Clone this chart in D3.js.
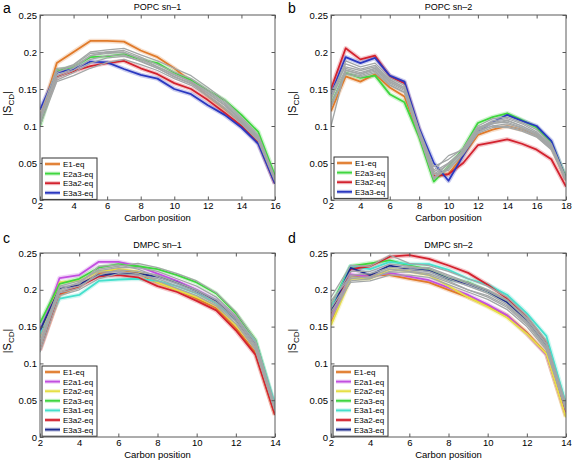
<!DOCTYPE html>
<html><head><meta charset="utf-8">
<script src="https://cdn.jsdelivr.net/npm/d3@7"></script>
<style>
html,body{margin:0;padding:0;background:#fff;}
svg{display:block;font-family:"Liberation Sans",Arial,Helvetica,sans-serif;}
</style></head>
<body><svg id="chart" width="573" height="461"></svg>
<script>
// ---------- Data ----------
const yTicks = [0, 0.05, 0.1, 0.15, 0.2, 0.25];
const yTickLabels = ["0", "0.05", "0.1", "0.15", "0.2", "0.25"];

// Panel a: POPC sn-1
const carbonsA = [2,3,4,5,6,7,8,9,10,11,12,13,14,15,16];
const xTicksA = [2,4,6,8,10,12,14,16];
const a_E1   = [0.110,0.185,0.200,0.215,0.215,0.214,0.202,0.193,0.178,0.160,0.140,0.123,0.105,0.082,0.025];
const a_E2a3 = [0.100,0.175,0.180,0.193,0.194,0.197,0.190,0.185,0.172,0.162,0.148,0.135,0.115,0.092,0.033];
const a_E3a2 = [0.110,0.166,0.174,0.181,0.185,0.188,0.178,0.170,0.158,0.150,0.135,0.118,0.100,0.078,0.022];
const a_E3a3 = [0.122,0.172,0.177,0.187,0.186,0.177,0.169,0.164,0.150,0.143,0.128,0.115,0.098,0.076,0.022];
const a_grey = [
  [0.105,0.175,0.183,0.200,0.203,0.205,0.196,0.188,0.178,0.168,0.152,0.135,0.112,0.088,0.030],
  [0.110,0.172,0.182,0.198,0.200,0.202,0.193,0.183,0.173,0.164,0.149,0.132,0.110,0.086,0.028],
  [0.108,0.168,0.178,0.195,0.198,0.200,0.190,0.180,0.170,0.160,0.145,0.128,0.106,0.083,0.027],
  [0.112,0.165,0.175,0.190,0.195,0.196,0.187,0.178,0.166,0.157,0.142,0.125,0.104,0.082,0.026],
  [0.100,0.160,0.168,0.178,0.186,0.190,0.183,0.175,0.164,0.155,0.140,0.123,0.103,0.080,0.025],
  [0.106,0.162,0.172,0.185,0.192,0.194,0.188,0.178,0.167,0.158,0.144,0.128,0.108,0.084,0.027],
  [0.115,0.178,0.180,0.195,0.200,0.199,0.191,0.180,0.169,0.160,0.147,0.130,0.108,0.085,0.028]
];

// Panel b: POPC sn-2
const carbonsB = [2,3,4,5,6,7,8,9,10,11,12,13,14,15,16,17,18];
const xTicksB = [2,4,6,8,10,12,14,16,18];
const b_E1   = [0.120,0.167,0.160,0.170,0.152,0.140,0.088,0.032,0.035,0.060,0.088,0.095,0.100,0.095,0.088,0.072,0.027];
const b_E2a3 = [0.130,0.172,0.165,0.168,0.143,0.132,0.085,0.025,0.045,0.070,0.104,0.112,0.117,0.108,0.098,0.077,0.030];
const b_E3a2 = [0.150,0.205,0.190,0.195,0.167,0.158,0.095,0.032,0.035,0.050,0.074,0.078,0.082,0.076,0.068,0.055,0.018];
const b_E3a3 = [0.143,0.193,0.185,0.192,0.168,0.160,0.097,0.050,0.026,0.060,0.093,0.105,0.115,0.107,0.100,0.080,0.028];
const b_grey = [
  [0.140,0.188,0.180,0.185,0.165,0.155,0.095,0.045,0.055,0.070,0.100,0.110,0.112,0.105,0.095,0.076,0.030],
  [0.135,0.184,0.177,0.182,0.163,0.152,0.092,0.040,0.060,0.068,0.097,0.107,0.110,0.103,0.092,0.074,0.029],
  [0.100,0.178,0.172,0.178,0.160,0.150,0.090,0.030,0.050,0.066,0.095,0.103,0.107,0.100,0.090,0.072,0.028],
  [0.125,0.175,0.170,0.176,0.158,0.148,0.090,0.028,0.045,0.065,0.092,0.100,0.103,0.097,0.088,0.070,0.027],
  [0.130,0.172,0.168,0.174,0.156,0.146,0.088,0.035,0.040,0.062,0.090,0.098,0.100,0.095,0.086,0.069,0.027],
  [0.128,0.170,0.166,0.172,0.155,0.145,0.087,0.030,0.042,0.063,0.094,0.100,0.098,0.093,0.085,0.068,0.026],
  [0.145,0.180,0.175,0.180,0.162,0.152,0.093,0.038,0.050,0.067,0.098,0.105,0.108,0.100,0.090,0.073,0.028],
  [0.138,0.176,0.170,0.178,0.160,0.150,0.090,0.035,0.048,0.065,0.096,0.104,0.105,0.098,0.088,0.071,0.027]
];

// Panel c: DMPC sn-1
const carbonsC = [2,3,4,5,6,7,8,9,10,11,12,13,14];
const xTicksC = [2,4,6,8,10,12,14];
const c_E1   = [0.120,0.193,0.205,0.222,0.228,0.222,0.210,0.200,0.188,0.175,0.148,0.115,0.030];
const c_E2a1 = [0.140,0.216,0.220,0.238,0.238,0.232,0.222,0.212,0.200,0.185,0.162,0.128,0.038];
const c_E2a2 = [0.135,0.210,0.212,0.225,0.228,0.225,0.210,0.200,0.190,0.178,0.152,0.120,0.035];
const c_E2a3 = [0.155,0.208,0.215,0.230,0.235,0.232,0.228,0.220,0.210,0.195,0.168,0.132,0.040];
const c_E3a1 = [0.140,0.188,0.193,0.212,0.214,0.215,0.212,0.205,0.195,0.182,0.160,0.130,0.043];
const c_E3a2 = [0.118,0.195,0.205,0.218,0.220,0.217,0.205,0.197,0.185,0.172,0.145,0.112,0.030];
const c_E3a3 = [0.145,0.202,0.207,0.220,0.222,0.222,0.218,0.210,0.198,0.185,0.160,0.125,0.038];
const c_grey = [
  [0.120,0.200,0.210,0.228,0.232,0.236,0.230,0.222,0.212,0.196,0.170,0.132,0.042],
  [0.125,0.205,0.212,0.226,0.230,0.230,0.225,0.215,0.205,0.190,0.165,0.128,0.040],
  [0.130,0.198,0.205,0.220,0.227,0.225,0.220,0.210,0.200,0.186,0.162,0.125,0.038],
  [0.115,0.192,0.200,0.215,0.222,0.220,0.215,0.205,0.195,0.180,0.157,0.120,0.036],
  [0.135,0.203,0.208,0.232,0.234,0.228,0.218,0.208,0.198,0.183,0.160,0.123,0.037],
  [0.128,0.196,0.202,0.224,0.225,0.222,0.212,0.202,0.192,0.178,0.154,0.118,0.035]
];

// Panel d: DMPC sn-2
const carbonsD = [2,3,4,5,6,7,8,9,10,11,12,13,14];
const xTicksD = [2,4,6,8,10,12,14];
const d_E1   = [0.157,0.218,0.220,0.220,0.215,0.210,0.200,0.190,0.178,0.165,0.142,0.113,0.028];
const d_E2a1 = [0.160,0.221,0.218,0.223,0.218,0.213,0.203,0.193,0.180,0.165,0.140,0.112,0.030];
const d_E2a2 = [0.152,0.215,0.215,0.228,0.225,0.220,0.205,0.190,0.177,0.162,0.140,0.113,0.027];
const d_E2a3 = [0.178,0.232,0.236,0.240,0.233,0.228,0.215,0.210,0.198,0.185,0.160,0.128,0.040];
const d_E3a1 = [0.175,0.232,0.228,0.238,0.235,0.235,0.227,0.215,0.207,0.193,0.168,0.137,0.045];
const d_E3a2 = [0.167,0.228,0.232,0.245,0.247,0.242,0.233,0.223,0.207,0.188,0.162,0.128,0.035];
const d_E3a3 = [0.170,0.230,0.220,0.233,0.228,0.226,0.215,0.208,0.198,0.183,0.158,0.125,0.038];
const d_grey = [
  [0.190,0.233,0.232,0.247,0.236,0.233,0.225,0.215,0.205,0.190,0.165,0.130,0.045],
  [0.180,0.225,0.225,0.235,0.232,0.228,0.218,0.208,0.198,0.185,0.160,0.125,0.040],
  [0.175,0.215,0.218,0.228,0.225,0.222,0.212,0.200,0.192,0.178,0.155,0.120,0.038],
  [0.170,0.210,0.212,0.220,0.220,0.217,0.207,0.197,0.187,0.173,0.150,0.118,0.036],
  [0.160,0.212,0.215,0.225,0.228,0.225,0.215,0.205,0.195,0.180,0.157,0.122,0.037],
  [0.165,0.220,0.222,0.230,0.230,0.230,0.220,0.210,0.200,0.186,0.162,0.127,0.040],
  [0.185,0.218,0.216,0.224,0.224,0.220,0.210,0.200,0.190,0.176,0.153,0.120,0.036]
];

// ---------- Styles ----------
const col = {
  E1:"#e07a2a", E2a1:"#c24fe0", E2a2:"#e6df45", E2a3:"#3fd63f",
  E3a1:"#45e0cc", E3a2:"#d3222e", E3a3:"#2a38c0", E3a3d:"#1f2c8e"
};
const greyCol = "#a3a7a7";

const panels = [
  {letter:"a", title:"POPC sn\u20131", box:[40,275,15,200], carbons:carbonsA, xTicks:xTicksA,
   series:[["E1-eq",a_E1,col.E1],["E2a3-eq",a_E2a3,col.E2a3],["E3a2-eq",a_E3a2,col.E3a2],["E3a3-eq",a_E3a3,col.E3a3]],
   greys:a_grey, legend:[42,158,55], ox:0, oy:0},
  {letter:"b", title:"POPC sn\u20132", box:[331,566,15,200], carbons:carbonsB, xTicks:xTicksB,
   series:[["E1-eq",b_E1,col.E1],["E2a3-eq",b_E2a3,col.E2a3],["E3a2-eq",b_E3a2,col.E3a2],["E3a3-eq",b_E3a3,col.E3a3]],
   greys:b_grey, legend:[334,157,54], ox:285, oy:0},
  {letter:"c", title:"DMPC sn\u20131", box:[40,275,253,437], carbons:carbonsC, xTicks:xTicksC,
   series:[["E1-eq",c_E1,col.E1],["E2a1-eq",c_E2a1,col.E2a1],["E2a2-eq",c_E2a2,col.E2a2],["E2a3-eq",c_E2a3,col.E2a3],
           ["E3a1-eq",c_E3a1,col.E3a1],["E3a2-eq",c_E3a2,col.E3a2],["E3a3-eq",c_E3a3,col.E3a3d]],
   greys:c_grey, legend:[42,366,55], ox:0, oy:230},
  {letter:"d", title:"DMPC sn\u20132", box:[331,566,253,437], carbons:carbonsD, xTicks:xTicksD,
   series:[["E1-eq",d_E1,col.E1],["E2a1-eq",d_E2a1,col.E2a1],["E2a2-eq",d_E2a2,col.E2a2],["E2a3-eq",d_E2a3,col.E2a3],
           ["E3a1-eq",d_E3a1,col.E3a1],["E3a2-eq",d_E3a2,col.E3a2],["E3a3-eq",d_E3a3,col.E3a3d]],
   greys:d_grey, legend:[333,366,55], ox:285, oy:230}
];

const svg = d3.select("#chart");

panels.forEach(p => {
  const [x0,x1,y0,y1] = p.box;
  const xs = d3.scaleLinear().domain(d3.extent(p.xTicks)).range([x0,x1]);
  const ys = d3.scaleLinear().domain([0,0.25]).range([y1,y0]);
  const g = svg.append("g");

  const clipId = "clip"+p.letter;
  g.append("clipPath").attr("id",clipId).append("rect")
    .attr("x",x0).attr("y",y0-2).attr("width",x1-x0).attr("height",y1-y0+2);

  const line = d3.line().x((d,i)=>xs(p.carbons[i])).y(d=>ys(d));
  const lines = g.append("g").attr("clip-path",`url(#${clipId})`);

  p.series.forEach(s => {
    lines.append("path").datum(s[1]).attr("d",line).attr("fill","none")
      .attr("stroke",s[2]).attr("stroke-opacity",0.25).attr("stroke-width",4.5).attr("stroke-linejoin","round");
  });
  p.series.forEach(s => {
    lines.append("path").datum(s[1]).attr("d",line).attr("fill","none")
      .attr("stroke",s[2]).attr("stroke-width",1.8).attr("stroke-linejoin","round");
  });
  p.greys.forEach(s => {
    lines.append("path").datum(s).attr("d",line).attr("fill","none")
      .attr("stroke",greyCol).attr("stroke-width",1.3).attr("stroke-linejoin","round");
  });

  g.append("rect").attr("x",x0).attr("y",y0).attr("width",x1-x0).attr("height",y1-y0)
    .attr("fill","none").attr("stroke","#5a5a5a").attr("stroke-width",1);

  const tl = 3.5;
  const xb = g.append("g").attr("transform",`translate(0,${y1})`)
    .call(d3.axisBottom(xs).tickValues(p.xTicks).tickSizeInner(-tl).tickSizeOuter(0).tickPadding(2.5));
  const xt = g.append("g").attr("transform",`translate(0,${y0})`)
    .call(d3.axisTop(xs).tickValues(p.xTicks).tickSizeInner(-tl).tickSizeOuter(0).tickFormat(""));
  const yl = g.append("g").attr("transform",`translate(${x0},0)`)
    .call(d3.axisLeft(ys).tickValues(yTicks).tickFormat((d,i)=>yTickLabels[i]).tickSizeInner(-tl).tickSizeOuter(0).tickPadding(3));
  const yr = g.append("g").attr("transform",`translate(${x1},0)`)
    .call(d3.axisRight(ys).tickValues(yTicks).tickSizeInner(-tl).tickSizeOuter(0).tickFormat(""));
  [xb,xt,yl,yr].forEach(a => {
    a.select(".domain").remove();
    a.selectAll(".tick line").attr("stroke","#5a5a5a");
    a.selectAll("text").attr("fill","#000").style("font-size","9.5px")
      .style("font-family","'Liberation Sans',Arial,sans-serif");
  });

  g.append("text").attr("x",(x0+x1)/2).attr("y",y0-5).attr("text-anchor","middle")
    .style("font-size","9px").text(p.title);
  g.append("text").attr("x",p.ox+3).attr("y",p.oy+13).style("font-size","14px").text(p.letter);
  g.append("text").attr("x",(x0+x1)/2).attr("y",y1+20.5).attr("text-anchor","middle")
    .style("font-size","9.5px").text("Carbon position");
  const ylab = g.append("text").attr("transform",`translate(${p.ox+11},${(y0+y1)/2 - 4}) rotate(-90)`)
    .attr("text-anchor","middle").style("font-size","11px");
  ylab.append("tspan").text("|S");
  ylab.append("tspan").attr("dy",3).style("font-size","8px").text("CD");
  ylab.append("tspan").attr("dy",-3).text("|");

  const [lx,ly,lw] = p.legend;
  const rowH = 9.6;
  const lh = p.series.length*rowH + 3;
  g.append("rect").attr("x",lx).attr("y",ly).attr("width",lw).attr("height",lh)
    .attr("fill","#fff").attr("stroke","#333").attr("stroke-width",1);
  p.series.forEach((s,i) => {
    const cy = ly + 6 + i*rowH;
    g.append("line").attr("x1",lx+3).attr("x2",lx+18).attr("y1",cy).attr("y2",cy)
      .attr("stroke",s[2]).attr("stroke-opacity",0.3).attr("stroke-width",4);
    g.append("line").attr("x1",lx+3).attr("x2",lx+18).attr("y1",cy).attr("y2",cy)
      .attr("stroke",s[2]).attr("stroke-width",1.8);
    g.append("text").attr("x",lx+21).attr("y",cy+3).style("font-size","8px").text(s[0]);
  });
});
</script>
</body></html>
